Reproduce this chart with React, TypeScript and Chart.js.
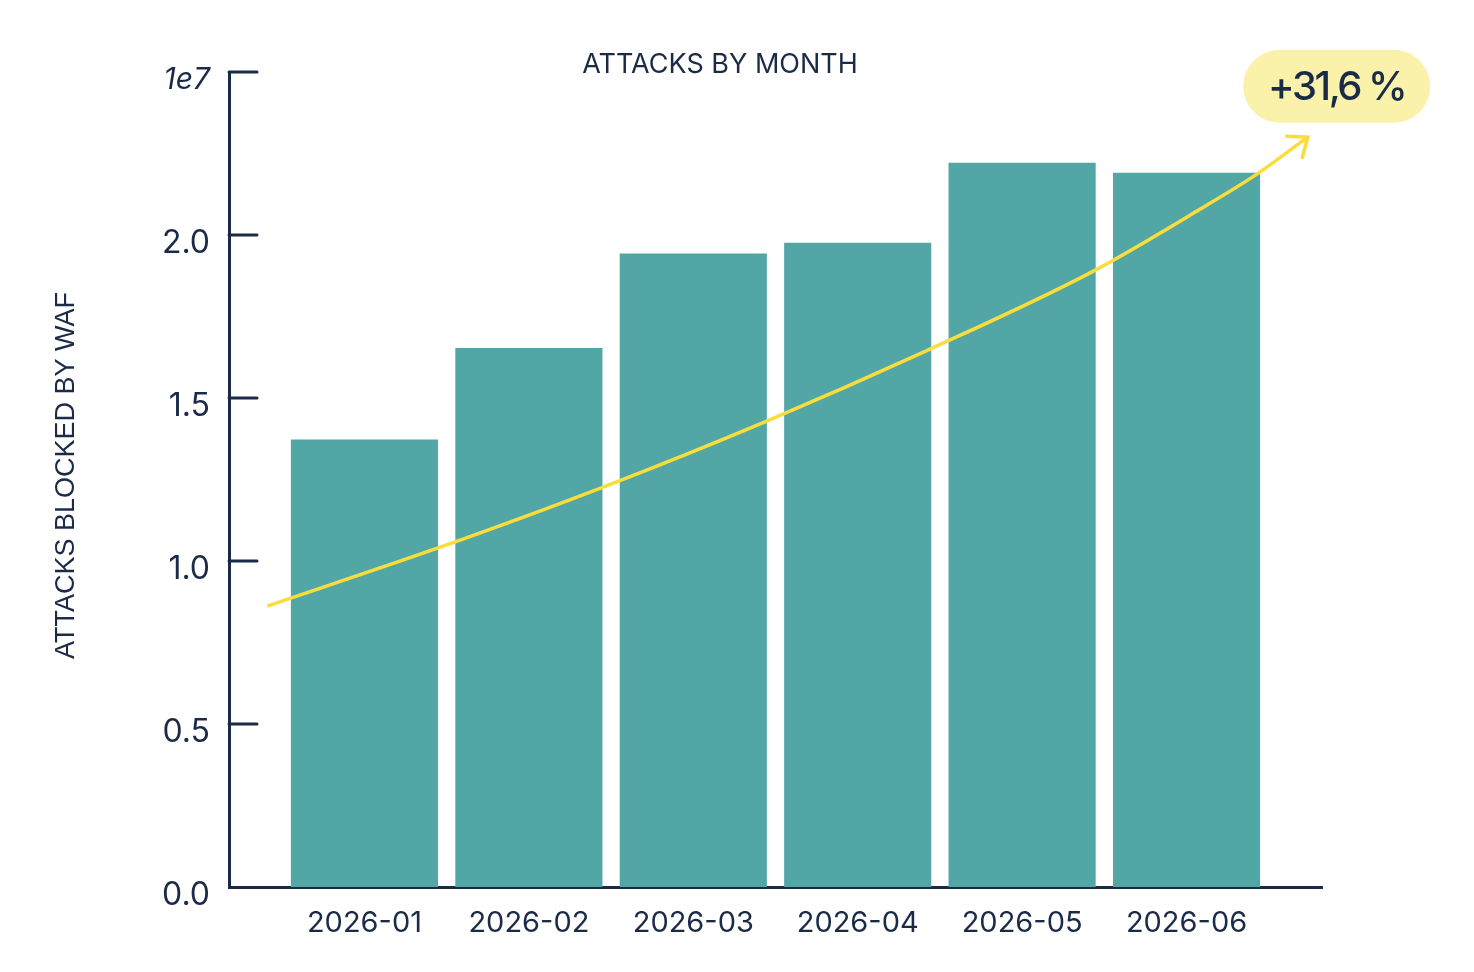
import React, { useEffect, useRef } from "react";
import { Chart, registerables } from "chart.js";

Chart.register(...registerables);

const months = ["2026-01", "2026-02", "2026-03", "2026-04", "2026-05", "2026-06"];
const attacks = [13.73e6, 16.53e6, 19.43e6, 19.76e6, 22.22e6, 21.91e6];
const trendX = [-0.59, 0.447, 1.448, 2.436, 3.427, 4.425, 5.082, 5.435, 5.737];
const trendY = [8.62e6, 10.4e6, 12.26e6, 14.27e6, 16.47e6, 18.87e6, 20.79e6, 21.89e6, 23.0e6];
const yTickValues = [0, 0.5e7, 1e7, 1.5e7, 2e7, 2.5e7];
const yTickLabels = ["0.0", "0.5", "1.0", "1.5", "2.0", "1e7"];
const chartTitle = "ATTACKS BY MONTH";
const yTitle = "ATTACKS BLOCKED BY WAF";
const badgeText = "+31,6 %";

const NAVY = "#1b2b47";
const TEAL = "#52a6a5";
const YELLOW = "#f8dd3c";
const BADGE = "#faf1aa";
const FONT = "Inter, 'DejaVu Sans', sans-serif";

const decorPlugin = {
  id: "decor",
  afterDatasetsDraw(chart: any) {
    const { ctx, chartArea, scales } = chart;
    const y = scales.y;
    ctx.save();
    // inward y ticks
    ctx.strokeStyle = NAVY;
    ctx.lineWidth = 3;
    ctx.lineCap = "round";
    y.ticks.forEach((t: any) => {
      if (t.value === 0) return;
      const py = y.getPixelForValue(t.value);
      ctx.beginPath();
      ctx.moveTo(chartArea.left, py);
      ctx.lineTo(chartArea.left + 28, py);
      ctx.stroke();
    });

    // arrow head on trend line
    const meta = chart.getDatasetMeta(1);
    const pts = meta.data;
    const p = pts[pts.length - 1];
    const q = pts[pts.length - 2];
    const ang = Math.atan2(p.y - q.y, p.x - q.x);
    const L = 21;
    const a = (39 * Math.PI) / 180;
    ctx.strokeStyle = YELLOW;
    ctx.lineWidth = 3.5;
    ctx.beginPath();
    ctx.moveTo(p.x - L * Math.cos(ang - a), p.y - L * Math.sin(ang - a));
    ctx.lineTo(p.x, p.y);
    ctx.lineTo(p.x - L * Math.cos(ang + a), p.y - L * Math.sin(ang + a));
    ctx.stroke();

    // badge
    const bw = 187;
    const bh = 73;
    const cx = p.x + 29;
    const cy = p.y - 51;
    ctx.fillStyle = BADGE;
    ctx.beginPath();
    ctx.roundRect(cx - bw / 2, cy - bh / 2, bw, bh, bh / 2);
    ctx.fill();
    ctx.fillStyle = NAVY;
    ctx.font = `500 40px ${FONT}`;
    (ctx as any).letterSpacing = "-2.5px";
    ctx.textAlign = "center";
    ctx.textBaseline = "middle";
    ctx.fillText(badgeText, cx, cy + 2);
    (ctx as any).letterSpacing = "0px";

    // title
    ctx.font = `400 27px ${FONT}`;
    ctx.fillText(chartTitle, chart.width / 2 - 17, 57);

    // y title
    ctx.font = `400 27px 'Liberation Sans', Arial, sans-serif`;
    ctx.translate(59, (chartArea.top + chartArea.bottom) / 2 - 4);
    ctx.rotate(-Math.PI / 2);
    ctx.fillText(yTitle, 0, 0);
    ctx.restore();
  },
};

export default function App() {
  const ref = useRef<HTMLCanvasElement>(null);

  useEffect(() => {
    if (!ref.current) return;
    const chart = new Chart(ref.current, {
      type: "bar",
      data: {
        datasets: [
          {
            type: "bar",
            data: months.map((_, i) => ({ x: i, y: attacks[i] })),
            backgroundColor: TEAL,
            borderWidth: 0,
            barPercentage: 0.895,
            categoryPercentage: 1,
            order: 2,
          } as any,
          {
            type: "line",
            data: trendX.map((x, i) => ({ x, y: trendY[i] })),
            borderColor: YELLOW,
            borderWidth: 3.5,
            pointRadius: 0,
            fill: false,
            tension: 0.4,
            cubicInterpolationMode: "monotone",
            order: 1,
          } as any,
        ],
      },
      plugins: [decorPlugin],
      options: {
        animation: false,
        responsive: true,
        maintainAspectRatio: false,
        layout: { padding: { top: 64, right: 144, left: 0, bottom: 0 } },
        plugins: {
          legend: { display: false },
          tooltip: { enabled: false },
          title: { display: false },
        },
        scales: {
          x: {
            type: "linear",
            offset: false,
            min: -0.824,
            max: 5.824,
            grid: { display: false, offset: false },
            border: { display: true, color: NAVY, width: 3 },
            afterBuildTicks: (scale: any) => {
              scale.ticks = months.map((_, i) => ({ value: i }));
            },
            afterFit: (scale: any) => {
              scale.height = 77;
            },
            ticks: {
              padding: 11,
              color: NAVY,
              maxRotation: 0,
              autoSkip: false,
              font: { family: FONT, size: 29, weight: "400" },
              callback: (v: any) => months[v] ?? "",
            },
          },
          y: {
            type: "linear",
            min: 0,
            max: 2.5e7,
            grid: { display: false },
            border: { display: true, color: NAVY, width: 3 },
            afterBuildTicks: (scale: any) => {
              scale.ticks = yTickValues.map((v) => ({ value: v }));
            },
            afterFit: (scale: any) => {
              scale.width = 221;
            },
            ticks: {
              padding: 11,
              labelOffset: 8,
              color: NAVY,
              font: (ctx: any) =>
                ctx.tick && ctx.tick.value === 2.5e7
                  ? { family: FONT, size: 30, style: "italic", weight: "400" }
                  : { family: FONT, size: 32, weight: "400" },
              callback: (v: any) => {
                const idx = yTickValues.indexOf(v);
                return idx >= 0 ? yTickLabels[idx] : "";
              },
            },
          },
        },
      } as any,
    });
    return () => chart.destroy();
  }, []);

  return (
    <div style={{ width: 1458, height: 956, position: "relative" }}>
      <canvas ref={ref} />
    </div>
  );
}
